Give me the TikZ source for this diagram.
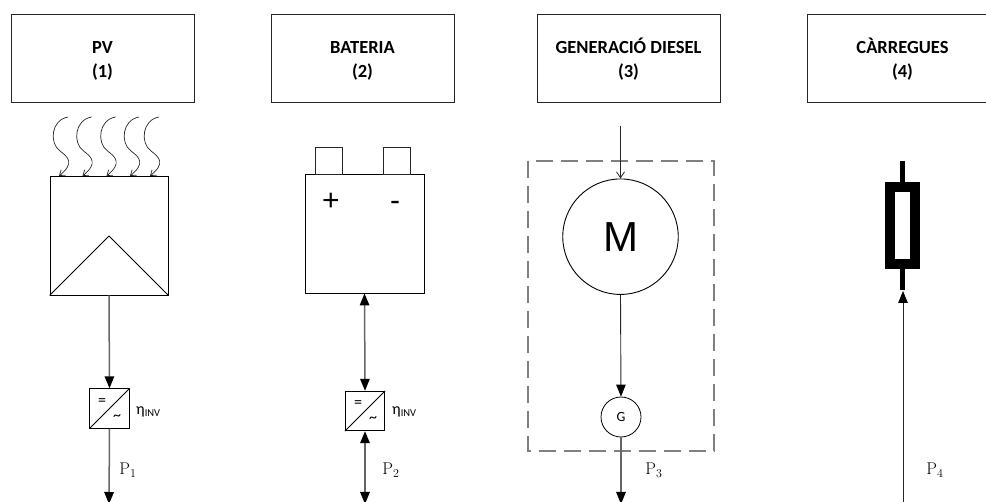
\documentclass[tikz,border=0pt]{standalone}
\usepackage{fontspec}
\newfontfamily\carlito{Carlito}
\newfontfamily\arialish{Liberation Sans}
\usetikzlibrary{arrows.meta}
\newcommand{\titlestrut}{\rule{0pt}{17.5pt}}
\tikzset{
  title/.style={draw=black!85,line width=.9pt,minimum width=183pt,minimum height=88pt,inner sep=0pt,align=center,font=\fontsize{18.5}{24}\selectfont\carlito\bfseries},
  shapebox/.style={draw=black,line width=.9pt,inner sep=0pt,anchor=center},
  inv/.style={shapebox,minimum width=39.5pt,minimum height=39.5pt},
  flow/.style={draw=black!60,line width=1.5pt,-{Triangle[length=12pt,width=9.5pt,fill=black,color=black]}},
  flowboth/.style={draw=black!60,line width=1.5pt,{Triangle[length=12pt,width=9.5pt,fill=black,color=black]}-{Triangle[length=12pt,width=9.5pt,fill=black,color=black]}},
  thin flow/.style={draw=black!85,line width=.9pt,-{Triangle[length=12pt,width=9.5pt,fill=black,color=black]}},
  wave/.style={draw=black!85,line width=.7pt,-{Straight Barb[length=5pt,width=7pt]}},
  pwr/.style={font=\fontsize{17}{17}\selectfont},
  eta/.style={font=\fontsize{16}{16}\selectfont\carlito,inner sep=0pt},
  small/.style={font=\fontsize{16}{16}\selectfont\carlito,inner sep=0pt},
  sign/.style={font=\fontsize{30}{30}\selectfont\arialish,inner sep=0pt},
}
\begin{document}
\begin{tikzpicture}[x=1pt,y=-1pt]
\useasboundingbox (0,0) rectangle (986,502);
% titles
\node[title] (t1) at (102.5,58) {\titlestrut PV\\(1)};
\node[title] (t2) at (362.5,58) {\titlestrut BATERIA\\(2)};
\node[title] (t3) at (628.5,58) {\titlestrut GENERACIÓ DIESEL\\(3)};
\draw[draw=black!85,line width=.9pt] (986,14) -- (807,14) -- (807,102) -- (986,102);
\node[font=\fontsize{18.5}{24}\selectfont\carlito\bfseries,align=center,inner sep=0pt] (t4) at (902.5,58) {\titlestrut CÀRREGUES\\(4)};
% PV
\node[shapebox,minimum width=118pt,minimum height=119pt] (pv) at (109,235.5) {};
\draw[draw=black,line width=.8pt] (pv.south west) -- (109,236) -- (pv.south east);
\foreach \d/\n in {0/a,23.5/b,47.5/c,71/d,91/e}{
  \coordinate (w\n s) at ({68+\d},117);
  \coordinate (w\n e) at ({59+\d},176);
  \draw[wave] (w\n s) .. controls ({51+\d},120) and ({49+\d},143) .. ({60+\d},151)
     .. controls ({68+\d},157) and ({75+\d},163) .. (w\n e);
}
\node[inv] (i1) at (109.5,408.5) {};
\draw[draw=black,line width=.8pt] (i1.south west) -- (i1.north east);
\node[small] (i1a) at (102,402) {=};
\node[small] (i1b) at (117,418) {\textasciitilde};
\node[eta,anchor=west] (e1) at (136,412) {η\raisebox{-2pt}{\fontsize{10.5}{10.5}\selectfont INV}};
\coordinate (b1) at (109,504);
\draw[flow] (pv.south) -- (i1.north);
\draw[flow] (i1.south) -- (b1);
\node[pwr] (p1) at (128,470) {$\mathrm{P}_1$};
% Battery
\node[shapebox,minimum width=119pt,minimum height=119pt] (bat) at (364.5,233.5) {};
\node[draw=black!85,line width=.8pt,inner sep=0pt,minimum width=27pt,minimum height=27pt] (tp) at (329,160.5) {};
\node[draw=black!85,line width=.8pt,inner sep=0pt,minimum width=27pt,minimum height=27pt] (tm) at (396.5,160.5) {};
\node[sign] (plus) at (331,202) {+};
\node[sign] (minus) at (395,206) {-};
\node[inv] (i2) at (365,411) {};
\draw[draw=black,line width=.8pt] (i2.south west) -- (i2.north east);
\node[small] (i2a) at (358,404) {=};
\node[small] (i2b) at (373,420) {\textasciitilde};
\node[eta,anchor=west] (e2) at (392,412) {η\raisebox{-2pt}{\fontsize{10.5}{10.5}\selectfont INV}};
\coordinate (b2) at (365,504);
\draw[flowboth] (bat.south) -- (i2.north);
\draw[flowboth] (i2.south) -- (b2);
\node[pwr] (p2) at (391,470) {$\mathrm{P}_2$};
% Diesel
\draw[draw=black!50,line width=2pt,dash pattern=on 17pt off 8pt] (528,161.5) rectangle (713.5,451);
\node[draw=black,line width=.9pt,circle,inner sep=0pt,minimum size=115.5pt,font=\fontsize{42}{42}\selectfont\arialish] (m) at (620.5,236.7) {M};
\node[draw=black,line width=.8pt,circle,inner sep=0pt,minimum size=40pt,font=\fontsize{14}{14}\selectfont\carlito] (g) at (621,417) {G};
\coordinate (fuel) at (620.5,126);
\coordinate (b3) at (621,504);
\draw[draw=black!85,line width=.8pt,-{Straight Barb[length=6pt,width=8pt]}] (fuel) -- (m.north);
\draw[thin flow] (m.south) -- (g.north);
\draw[flow] (g.south) -- (b3);
\node[pwr] (p3) at (654,470) {$\mathrm{P}_3$};
% Load
\node[draw=black,line width=10pt,inner sep=0pt,minimum width=25pt,minimum height=77pt] (load) at (902.5,225.5) {};
\coordinate (lt) at (902.5,161);
\coordinate (lb) at (902.5,290);
\draw[line width=5pt] (lt) -- (load.north);
\draw[line width=5pt] (load.south) -- (lb);
\coordinate (b4) at (903,502);
\coordinate (lt2) at (903,291);
\draw[thin flow] (b4) -- (lt2);
\node[pwr] (p4) at (935,470) {$\mathrm{P}_4$};
\end{tikzpicture}
\end{document}
